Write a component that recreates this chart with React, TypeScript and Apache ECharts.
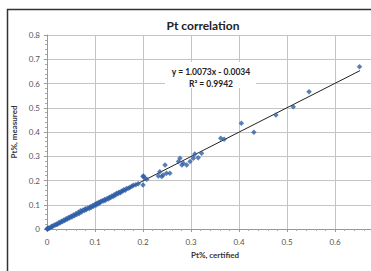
import React, { useEffect, useRef } from "react";
import * as echarts from "echarts";

const certified = [
  0, 0.001, 0.002, 0.003, 0.005, 0.008, 0.01, 0.012, 0.015, 0.018, 0.02, 0.022, 0.025, 0.027,
  0.03, 0.032, 0.035, 0.037, 0.04, 0.042, 0.045, 0.047, 0.05, 0.052, 0.055, 0.057, 0.06,
  0.062, 0.065, 0.067, 0.07, 0.072, 0.075, 0.078, 0.08, 0.082, 0.085, 0.088, 0.09, 0.092,
  0.095, 0.097, 0.1, 0.102, 0.104, 0.106, 0.108, 0.11, 0.112, 0.115, 0.118, 0.12, 0.122,
  0.125, 0.128, 0.13, 0.133, 0.135, 0.138, 0.14, 0.143, 0.145, 0.148, 0.15, 0.153, 0.155,
  0.158, 0.16, 0.163, 0.166, 0.17, 0.173, 0.177, 0.18, 0.185, 0.19,
  0.2, 0.201, 0.204, 0.208, 0.2, 0.232, 0.235, 0.239, 0.242, 0.246, 0.249, 0.256,
  0.274, 0.277, 0.281, 0.284, 0.291, 0.298, 0.305, 0.308, 0.315, 0.322, 0.362, 0.369,
  0.405, 0.431, 0.477, 0.513, 0.546, 0.651,
];
const measured = [
  0, 0.002, 0.001, 0.004, 0.003, 0.007, 0.011, 0.01, 0.016, 0.017, 0.021, 0.02, 0.027, 0.025,
  0.032, 0.03, 0.037, 0.035, 0.042, 0.04, 0.047, 0.045, 0.053, 0.05, 0.058, 0.055, 0.063,
  0.06, 0.069, 0.064, 0.075, 0.07, 0.078, 0.076, 0.083, 0.08, 0.087, 0.085, 0.092, 0.089,
  0.097, 0.094, 0.102, 0.098, 0.106, 0.103, 0.11, 0.107, 0.113, 0.116, 0.115, 0.122, 0.119,
  0.126, 0.124, 0.131, 0.13, 0.136, 0.134, 0.141, 0.14, 0.147, 0.145, 0.152, 0.15, 0.156,
  0.157, 0.162, 0.16, 0.167, 0.168, 0.172, 0.176, 0.18, 0.182, 0.187,
  0.181, 0.219, 0.209, 0.205, 0.216, 0.219, 0.236, 0.216, 0.223, 0.264, 0.23, 0.23,
  0.278, 0.292, 0.264, 0.271, 0.264, 0.278, 0.292, 0.309, 0.294, 0.312, 0.374, 0.37,
  0.436, 0.399, 0.47, 0.504, 0.566, 0.669,
];
const trendX = [0.003, 0.652];
const trendY = [0, 0.653];
const trendText = ["y = 1.0073x - 0.0034", "R\u00b2 = 0.9942"];
const titleText = "Pt correlation";
const xName = "Pt%, certified";
const yName = "Pt%, measured";

export default function App() {
  const ref = useRef<HTMLDivElement>(null);
  useEffect(() => {
    document.body.style.margin = "0";
    document.body.style.overflow = "hidden";
    const chart = echarts.init(ref.current!, null, { renderer: "svg" });
    const font = "Lato, 'Open Sans', sans-serif";
    chart.setOption({
      animation: false,
      backgroundColor: "#ffffff",
      textStyle: { fontFamily: font },
      grid: { left: 47, top: 35, right: 17, bottom: 42, containLabel: false },
      xAxis: {
        type: "value",
        min: 0,
        max: 0.7,
        interval: 0.1,
        name: xName,
        nameLocation: "middle",
        nameGap: 22,
        nameTextStyle: { fontSize: 8, fontWeight: "bold", color: "#333", fontFamily: font },
        axisLine: { show: true, lineStyle: { color: "#999", width: 1 } },
        axisTick: { show: true, length: 3, lineStyle: { color: "#999" } },
        minorTick: { show: true, splitNumber: 5, length: 2, lineStyle: { color: "#aaa" } },
        axisLabel: { fontSize: 8, color: "#555", margin: 9, fontFamily: font, showMaxLabel: false },
        splitLine: { show: true, lineStyle: { color: "#c4c4c4", width: 1 } },
      },
      yAxis: {
        type: "value",
        min: 0,
        max: 0.8,
        interval: 0.1,
        name: yName,
        nameLocation: "middle",
        nameGap: 16,
        nameTextStyle: { fontSize: 8, fontWeight: "bold", color: "#333", fontFamily: font },
        axisLine: { show: true, lineStyle: { color: "#999", width: 1 } },
        axisTick: { show: true, length: 3, lineStyle: { color: "#999" } },
        minorTick: { show: true, splitNumber: 5, length: 2, lineStyle: { color: "#aaa" } },
        axisLabel: { fontSize: 8, color: "#555", margin: 7, fontFamily: font },
        splitLine: { show: true, lineStyle: { color: "#c4c4c4", width: 1 } },
      },
      series: [
        {
          type: "line",
          data: trendX.map((x, i) => [x, trendY[i]]),
          symbol: "none",
          lineStyle: { color: "#222", width: 1 },
          z: 3,
        },
        {
          type: "scatter",
          data: certified.map((x, i) => [x, measured[i]]),
          symbol: "diamond",
          symbolSize: 5.5,
          itemStyle: { color: "#2f5fa6" },
          z: 4,
        },
      ],
      graphic: [
        {
          type: "rect",
          shape: { x: 7.5, y: 9.5, width: 420, height: 300 },
          style: { fill: "none", stroke: "#333", lineWidth: 1.5 },
          z: 10,
        },
        {
          type: "text",
          x: 203,
          y: 25,
          style: {
            text: titleText,
            textAlign: "center",
            textVerticalAlign: "middle",
            font: `bold 12px ${font}`,
            fill: "#222",
          },
        },
        {
          type: "rect",
          shape: { x: 165, y: 62, width: 91, height: 26 },
          style: { fill: "#ffffff" },
          z: 5,
        },
        {
          type: "text",
          x: 211,
          y: 72,
          z: 6,
          style: {
            text: trendText[0],
            textAlign: "center",
            textVerticalAlign: "middle",
            font: `bold 8.5px ${font}`,
            fill: "#222",
          },
        },
        {
          type: "text",
          x: 211,
          y: 84,
          z: 6,
          style: {
            text: trendText[1],
            textAlign: "center",
            textVerticalAlign: "middle",
            font: `bold 8.5px ${font}`,
            fill: "#222",
          },
        },
      ],
    });
    return () => chart.dispose();
  }, []);
  return <div ref={ref} style={{ width: 400, height: 271 }} />;
}
